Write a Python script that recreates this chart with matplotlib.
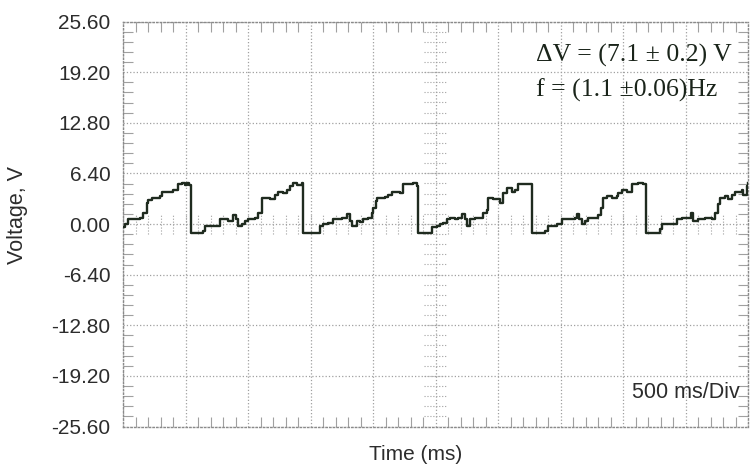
import numpy as np
import matplotlib
matplotlib.use("Agg")
from matplotlib import pyplot as plt
from matplotlib.ticker import MultipleLocator, FixedLocator

plt.rcParams['axes.unicode_minus'] = False

temps_ms = [0, 16, 38, 136, 162, 190, 202, 230, 296, 310, 402, 442, 470, 496, 510, 528,
            544, 602, 642, 656, 736, 776, 842, 882, 902, 922, 950, 976, 1002, 1056, 1082,
            1110, 1176, 1216, 1242, 1280, 1310, 1336, 1362, 1390, 1430,
            1442, 1496, 1550, 1576, 1602, 1642, 1682, 1750, 1790, 1816, 1830, 1870, 1896,
            1922, 1962, 1990, 2002, 2024, 2034, 2096, 2122, 2150, 2216, 2242, 2296, 2322, 2350,
            2358, 2470, 2510, 2536, 2562, 2590, 2616, 2656, 2682, 2710, 2736, 2750, 2776,
            2816, 2882, 2910, 2922, 2962, 3016, 3042, 3070, 3110, 3136, 3162, 3216,
            3270, 3350, 3376, 3402, 3470, 3510, 3616, 3630, 3648, 3670, 3696, 3722, 3802,
            3824, 3842, 3870, 3910, 3950, 3962, 3990, 4030, 4070, 4122, 4162,
            4182, 4296, 4310, 4430, 4470, 4544, 4562, 4602, 4656, 4710, 4736, 4762, 4776,
            4816, 4842, 4870, 4896, 4950, 4962, 4990, 5000]
tension_V = [-0.4, 0.0, 0.6, 0.8, 1.4, 2.7, 3.0, 3.3, 3.6, 4.1, 4.35, 5.0, 5.2, 4.9, 5.2, 4.9,
             -1.1, -1.2, -0.9, -0.25, -0.2, 0.6, 0.4, 1.2, 0.6, -0.25, 0.0, 0.4, 0.6, 0.8, 1.4,
             3.3, 3.1, 3.7, 4.1, 3.9, 4.35, 4.8, 5.2, 4.9, 5.2,
             -1.1, -1.2, -1.1, -0.25, 0.0, 0.15, 0.6, 0.8, 1.3, 0.4, -0.25, 0.4, 0.2,
             0.6, 0.8, 1.4, 2.0, 2.9, 3.3, 3.4, 3.7, 4.1, 3.9, 5.0, 5.1, 5.2, 4.8,
             -1.1, -0.4, -0.3, 0.0, 0.15, 0.6, 0.8, 0.6, 0.8, 1.3, 0.6, -0.25, 0.6,
             0.8, 1.4, 1.8, 3.3, 3.1, 2.7, 3.9, 4.55, 4.1, 4.35, 5.0, 5.1,
             -1.1, -1.2, -0.9, -0.25, 0.0, 0.6, 0.8, 1.3, 0.6, 0.0, 0.4, 0.8, 1.2,
             2.05, 3.3, 3.5, 3.3, 3.5, 3.9, 4.35, 4.1, 5.0, 5.2, 5.0,
             -1.1, -0.65, 0.0, 0.6, 0.8, 1.4, 0.4, 0.6, 0.8, 0.6, 1.4, 2.5, 3.3,
             3.5, 3.1, 3.7, 4.1, 4.35, 3.7, 4.8, 5.2]

y_ticks = [25.6, 19.2, 12.8, 6.4, 0.0, -6.4, -12.8, -19.2, -25.6]
t_div = 500  # ms/div
t_max = 5000
v_div = 6.4

gris = '#a0a0a0'

fig = plt.figure(figsize=(7.51, 4.68), dpi=100)
fig.patch.set_facecolor('white')
ax = fig.add_axes([123/751, 1-426.5/468, 625/751, 405/468])

ax.plot(temps_ms, tension_V, drawstyle='steps-post', color='#1f2b1f', lw=1.7, zorder=5)

ax.set_xlim(0, t_max)
ax.set_ylim(-25.6, 25.6)

ax.xaxis.set_major_locator(MultipleLocator(t_div))
ax.xaxis.set_minor_locator(MultipleLocator(t_div/5))
ax.yaxis.set_major_locator(FixedLocator(y_ticks))
ax.yaxis.set_minor_locator(MultipleLocator(v_div/5))
ax.set_yticklabels(['%.2f' % v for v in y_ticks])
ax.set_xticklabels([])

ax.tick_params(which='major', length=0, pad=9, labelsize=15, labelcolor='#2c2c2c')
ax.tick_params(which='minor', direction='in', length=7, width=0.8, color=gris,
               top=True, right=True, bottom=True, left=True)
for lab in ax.get_yticklabels():
    lab.set_fontfamily('Liberation Sans')

ax.grid(which='major', linestyle=':', color=gris, lw=0.9)
for sp in ax.spines.values():
    sp.set_linestyle(':')
    sp.set_color('#8a8a8a')
    sp.set_linewidth(1.0)

# petites graduations sur les axes centraux
mt = np.arange(0, t_max + 1, t_div/5)
ax.vlines(mt, -1.25, 1.25, colors=gris, linestyles=':', lw=0.8, zorder=1)
mv = np.arange(-25.6, 25.7, v_div/5)
ax.hlines(mv, t_max/2 - 90, t_max/2 + 90, colors=gris, linestyles=':', lw=0.8, zorder=1)

ax.text(0.66, 0.915, '\u0394V = (7.1 \u00b1 0.2) V', transform=ax.transAxes,
        family='Liberation Serif', fontsize=18.5, color='#1a241a', va='center', ha='left')
ax.text(0.66, 0.83, 'f = (1.1 \u00b10.06)Hz', transform=ax.transAxes,
        family='Liberation Serif', fontsize=18.5, color='#1a241a', va='center', ha='left')
ax.text(0.815, 0.083, '500 ms/Div', transform=ax.transAxes,
        family='Liberation Sans', fontsize=15.5, color='#2c2c2c', va='center', ha='left')

fig.text(416/751, 1-454/468, 'Time (ms)', family='Liberation Sans', fontsize=15,
         color='#2c2c2c', ha='center', va='center')
fig.text(18/751, 1-215/468, 'Voltage, V', family='Liberation Sans', fontsize=15.5,
         color='#2c2c2c', ha='center', va='center', rotation=90)

fig.savefig('out.png', dpi=100)
